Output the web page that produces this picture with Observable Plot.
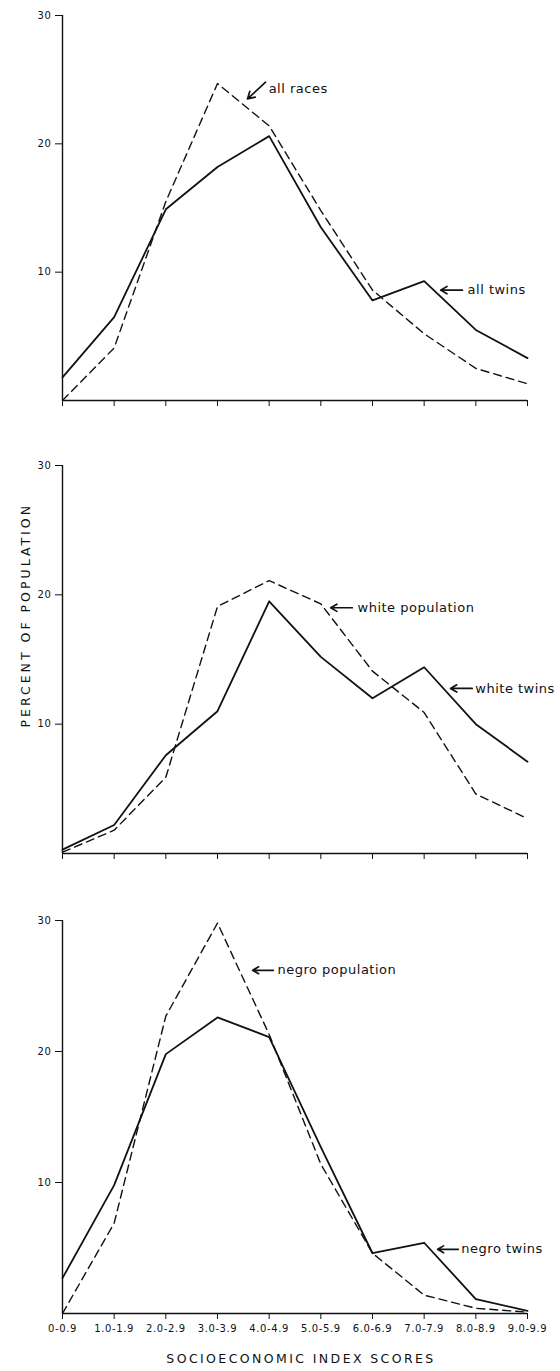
<!DOCTYPE html>
<html>
<head>
<meta charset="utf-8">
<script src="https://cdn.jsdelivr.net/npm/d3@7"></script>
<script src="https://cdn.jsdelivr.net/npm/@observablehq/plot@0.6"></script>
<style>
  html, body { margin: 0; padding: 0; background: #fff; }
  #chart svg { display: block; }
</style>
</head>
<body>
<div id="chart"></div>
<script>
const categories = ["0-0.9","1.0-1.9","2.0-2.9","3.0-3.9","4.0-4.9","5.0-5.9","6.0-6.9","7.0-7.9","8.0-8.9","9.0-9.9"];
const yTicks = [10, 20, 30];

// Panel 1
const allTwins = [1.8, 6.5, 14.9, 18.2, 20.6, 13.5, 7.8, 9.3, 5.5, 3.3];
const allRaces = [0.0, 4.1, 15.5, 24.7, 21.4, 14.8, 8.6, 5.2, 2.5, 1.3];
// Panel 2
const whiteTwins = [0.3, 2.2, 7.6, 11.0, 19.5, 15.2, 12.0, 14.4, 10.0, 7.1];
const whitePop   = [0.1, 1.8, 5.9, 19.1, 21.1, 19.3, 14.1, 10.9, 4.6, 2.7];
// Panel 3
const negroTwins = [2.7, 9.8, 19.8, 22.6, 21.1, 12.7, 4.6, 5.4, 1.1, 0.2];
const negroPop   = [0.0, 6.9, 22.7, 29.8, 21.3, 11.4, 4.6, 1.4, 0.4, 0.1];

// Annotations (data coordinates: x = category index, y = percent)
const labels1 = [{text: "all races", x: 3.99, y: 24.3}, {text: "all twins", x: 7.84, y: 8.6}];
const arrows1 = [{x1: 3.93, y1: 24.8, x2: 3.58, y2: 23.5}, {x1: 7.74, y1: 8.6, x2: 7.32, y2: 8.6}];
const labels2 = [{text: "white population", x: 5.71, y: 19.0}, {text: "white twins", x: 7.99, y: 12.76}];
const arrows2 = [{x1: 5.61, y1: 19.0, x2: 5.19, y2: 19.0}, {x1: 7.93, y1: 12.76, x2: 7.51, y2: 12.76}];
const labels3 = [{text: "negro population", x: 4.16, y: 26.2}, {text: "negro twins", x: 7.72, y: 4.9}];
const arrows3 = [{x1: 4.08, y1: 26.2, x2: 3.68, y2: 26.2}, {x1: 7.66, y1: 4.9, x2: 7.26, y2: 4.9}];

const idx = d3.range(categories.length);
const FONT = "DejaVu Sans, sans-serif";

function panel({solid, dashed, labels, arrows, height, marginTop, marginBottom, showX, extra = []}) {
  const solidData = idx.map(i => ({x: i, y: solid[i]}));
  const dashedData = idx.map(i => ({x: i, y: dashed[i]}));
  return Plot.plot({
    width: 560,
    height,
    marginLeft: 62,
    marginRight: 33,
    marginTop,
    marginBottom,
    style: {fontFamily: FONT, fontSize: "10px", color: "#111", background: "#fff"},
    x: {domain: [0, categories.length - 1]},
    y: {domain: [0, 30]},
    marks: [
      Plot.ruleX([0], {y1: 0, y2: 30, stroke: "#111", strokeWidth: 1.4}),
      Plot.ruleY([0], {x1: 0, x2: categories.length - 1, stroke: "#111", strokeWidth: 1.4}),
      Plot.axisY({ticks: yTicks, tickSize: 7, tickPadding: 4, label: null, tickFormat: d => d, stroke: "#111", fontSize: 10}),
      Plot.axisX({ticks: idx, tickSize: 6, tickPadding: 5, label: null,
        tickFormat: showX ? (i => categories[i]) : (() => ""), stroke: "#111", fontSize: 10}),
      Plot.line(dashedData, {x: "x", y: "y", stroke: "#111", strokeWidth: 1.4, strokeDasharray: "8,5"}),
      Plot.line(solidData, {x: "x", y: "y", stroke: "#111", strokeWidth: 1.8}),
      Plot.arrow(arrows, {x1: "x1", y1: "y1", x2: "x2", y2: "y2", stroke: "#111", strokeWidth: 1.7, headLength: 7, bend: 0}),
      Plot.text(labels, {x: "x", y: "y", text: "text", textAnchor: "start", fontSize: 13, fill: "#111"}),
      ...extra
    ]
  });
}

const chart = document.getElementById("chart");

const p1 = panel({solid: allTwins, dashed: allRaces, labels: labels1, arrows: arrows1,
  height: 440, marginTop: 15, marginBottom: 40, showX: false});
const p2 = panel({solid: whiteTwins, dashed: whitePop, labels: labels2, arrows: arrows2,
  height: 447, marginTop: 25, marginBottom: 34, showX: false,
  extra: [Plot.text(["PERCENT OF POPULATION"], {frameAnchor: "left", dx: -37, dy: 68, rotate: -90, fontSize: 12.5, fill: "#111"})]});
const p3 = panel({solid: negroTwins, dashed: negroPop, labels: labels3, arrows: arrows3,
  height: 484, marginTop: 33, marginBottom: 58, showX: true,
  extra: [Plot.text(["SOCIOECONOMIC INDEX SCORES"], {frameAnchor: "bottom", dx: 6, dy: 49, fontSize: 12.5, fill: "#111"})]});

for (const p of [p1, p2, p3]) chart.appendChild(p);

d3.select(chart).selectAll("text").each(function() {
  const t = this.textContent;
  if (t === "PERCENT OF POPULATION") d3.select(this).style("letter-spacing", "3px");
  else if (t === "SOCIOECONOMIC INDEX SCORES") d3.select(this).style("letter-spacing", "2.4px");
  else if (/^[a-z]/.test(t)) d3.select(this).style("letter-spacing", "0.5px");
  else d3.select(this).style("letter-spacing", "0.6px");
});
</script>
</body>
</html>
